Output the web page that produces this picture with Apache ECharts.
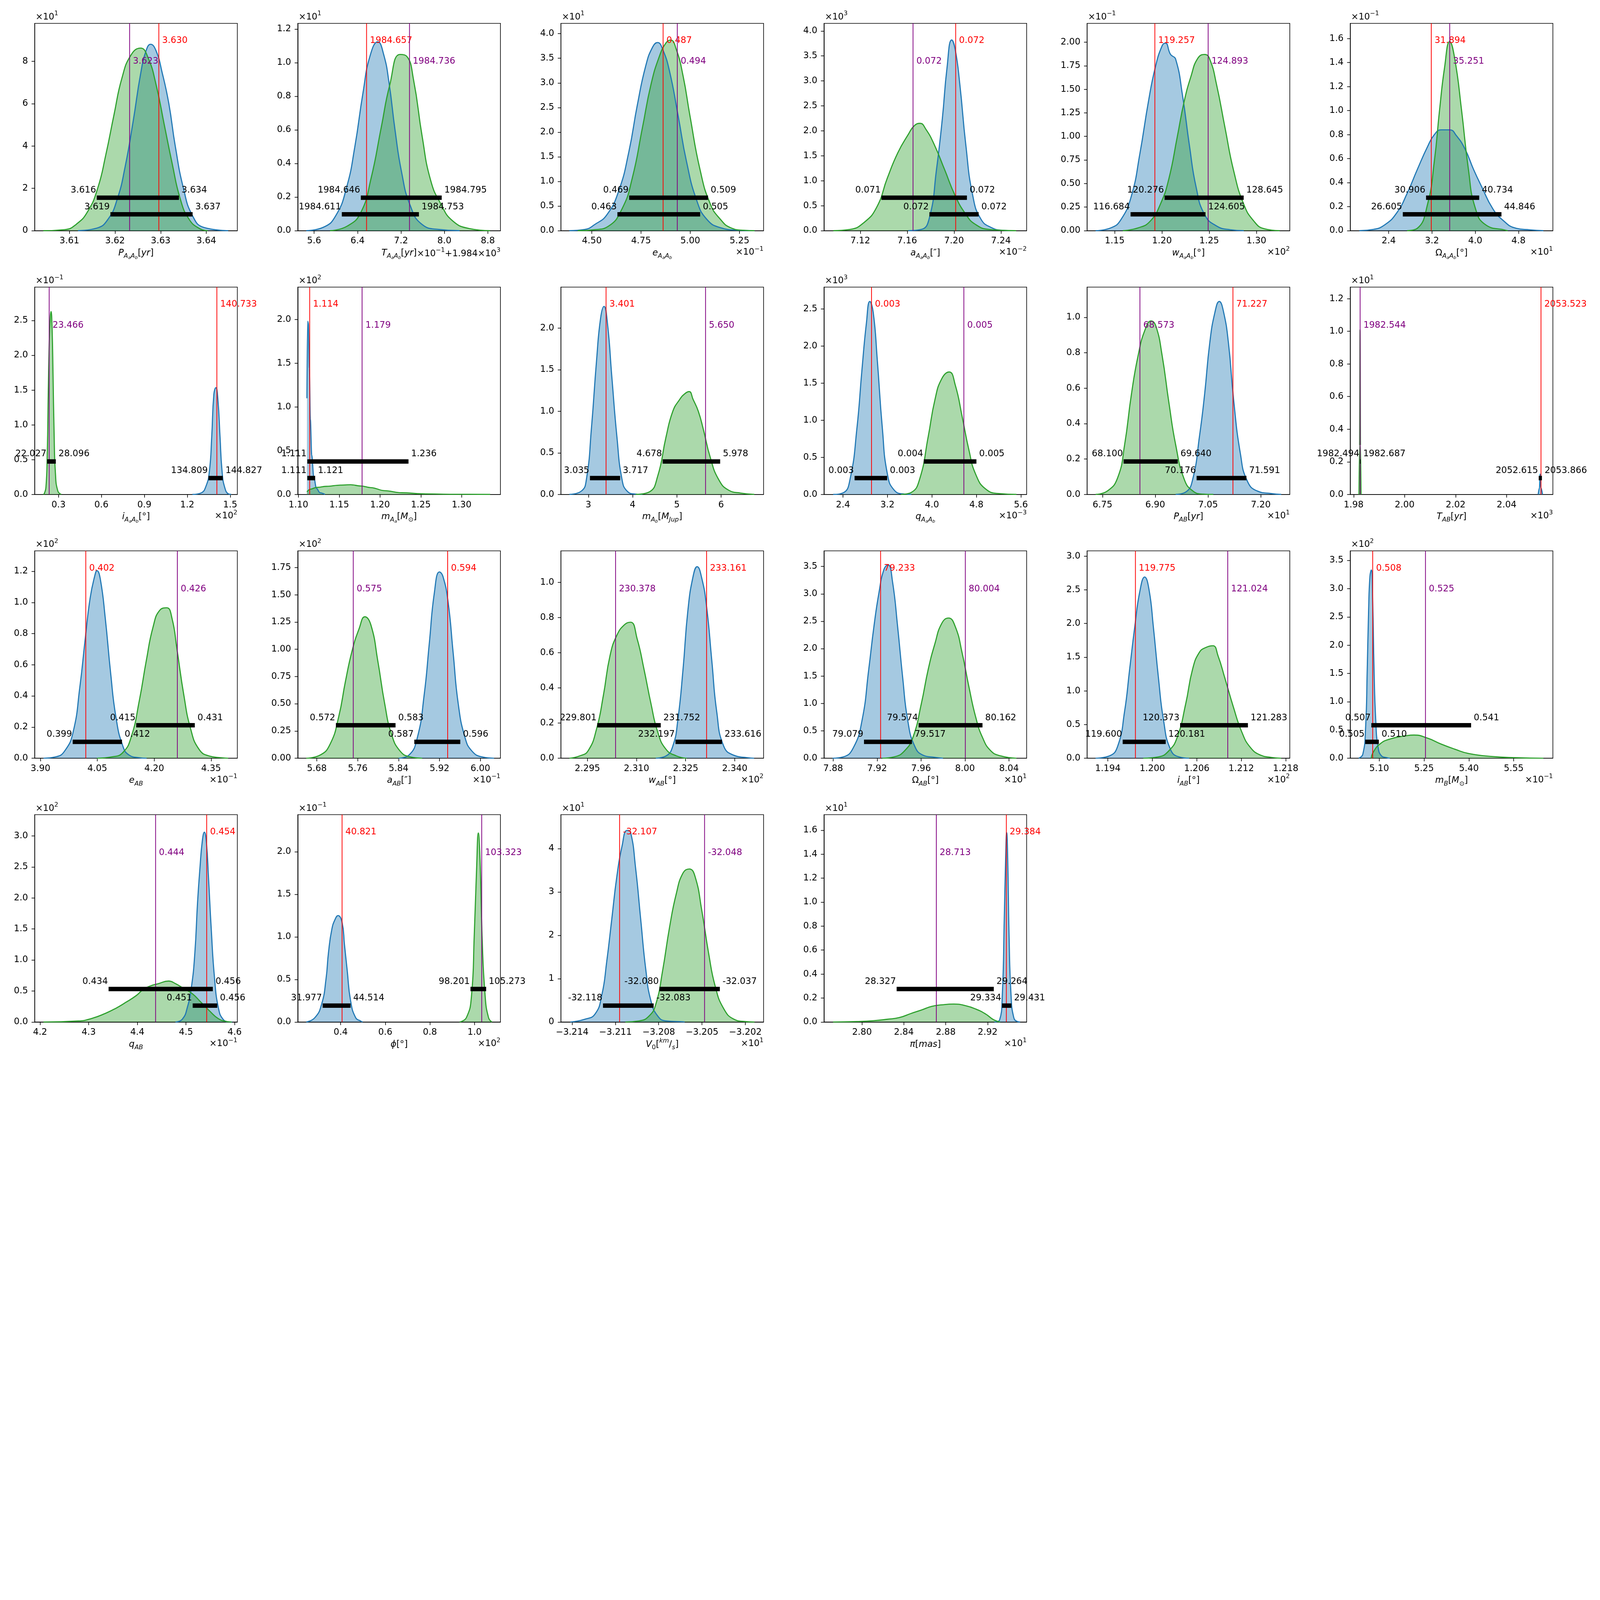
<!DOCTYPE html>
<html>
<head>
<meta charset="utf-8">
<script src="https://cdn.jsdelivr.net/npm/echarts@6/dist/echarts.min.js"></script>
<style>html,body{margin:0;background:#fff;overflow:hidden}#chart{width:7200px;height:4800px}</style>
</head>
<body>
<div id="chart"></div>
<script>
// ---- data (axis display units) ----
const xLabels = [
  '{it|P}{sub|A}{ss|a}{sub|A}{ss|b}{rm|[}{it|yr}{rm|]}',
  '{it|T}{sub|A}{ss|a}{sub|A}{ss|b}{rm|[}{it|yr}{rm|]}',
  '{it|e}{sub|A}{ss|a}{sub|A}{ss|b}',
  '{it|a}{sub|A}{ss|a}{sub|A}{ss|b}{rm|[″]}',
  '{it|w}{sub|A}{ss|a}{sub|A}{ss|b}{rm|[°]}',
  '{rm|Ω}{sub|A}{ss|a}{sub|A}{ss|b}{rm|[°]}',
  '{it|i}{sub|A}{ss|a}{sub|A}{ss|b}{rm|[°]}',
  '{it|m}{sub|A}{ss|a}{rm|[}{it|M}{subrm|⊙}{rm|]}',
  '{it|m}{sub|A}{ss|b}{rm|[}{it|M}{sub|Jup}{rm|]}',
  '{it|q}{sub|A}{ss|a}{sub|A}{ss|b}',
  '{it|P}{sub|AB}{rm|[}{it|yr}{rm|]}',
  '{it|T}{sub|AB}{rm|[}{it|yr}{rm|]}',
  '{it|e}{sub|AB}',
  '{it|a}{sub|AB}{rm|[″]}',
  '{it|w}{sub|AB}{rm|[°]}',
  '{rm|Ω}{sub|AB}{rm|[°]}',
  '{it|i}{sub|AB}{rm|[°]}',
  '{it|m}{sub|B}{rm|[}{it|M}{subrm|⊙}{rm|]}',
  '{it|q}{sub|AB}',
  '{it|ϕ}{rm|[°]}',
  '{it|V}{subrm|0}{rm|[}{supi|km}{rm|/}{subi|s}{rm|]}',
  '{it|π}{rm|[}{it|mas}{rm|]}'
];
const yExp = ['1','1','1','3','−1','−1', '−1','2','','3','','1', '2','2','','','','2', '2','−1','1','1'];
const xExp = ['', '{rm|×10}{sup|−1}{rm|+1.984×10}{sup|3}', '−1','−2','2','1', '2','','','−3','1','3',
              '−1','−1','2','1','2','−1', '−1','2','1','1'];

const xRange = [[3.6024,3.6468],[5.299,9.032],[4.343,5.372],[7.089,7.262],[1.1208,1.3353],[1.688,5.436],
  [0.1333,1.55],[1.0992,1.3476],[2.378,6.959],[2.058,5.704],[6.7064,7.2823],[1.97866,2.05817],
  [3.8847,4.4192],[5.6427,6.0393],[2.2869,2.3488],[7.8717,8.0561],[1.1912,1.21855],[5.0032,5.681],
  [4.1888,4.6056],[0.2076,1.116],[-3.21478,-3.20073],[2.7637,2.9573]];
const yTop = [9.8,1.234,4.21,4.153,2.20,1.727, 2.98,2.371,2.492,2.793,1.171,1.271,
  1.331,1.903,1.18,3.785,3.078,3.668, 3.342,2.435,4.784,1.73];

const xTicks = [[3.61,3.62,3.63,3.64],[5.6,6.4,7.2,8.0,8.8],[4.50,4.75,5.00,5.25],[7.12,7.16,7.20,7.24],
  [1.15,1.20,1.25,1.30],[2.4,3.2,4.0,4.8],[0.3,0.6,0.9,1.2,1.5],[1.10,1.15,1.20,1.25,1.30],[3,4,5,6],
  [2.4,3.2,4.0,4.8,5.6],[6.75,6.90,7.05,7.20],[1.98,2.00,2.02,2.04],[3.90,4.05,4.20,4.35],
  [5.68,5.76,5.84,5.92,6.00],[2.295,2.310,2.325,2.340],[7.88,7.92,7.96,8.00,8.04],
  [1.194,1.200,1.206,1.212,1.218],[5.10,5.25,5.40,5.55],[4.2,4.3,4.4,4.5,4.6],[0.4,0.6,0.8,1.0],
  [-3.214,-3.211,-3.208,-3.205,-3.202],[2.80,2.84,2.88,2.92]];
const xDec = [2,1,2,2,2,1, 1,2,0,1,2,2, 2,2,3,2,3,2, 1,1,3,2];

const yTicks = [[0,2,4,6,8],[0,0.2,0.4,0.6,0.8,1.0,1.2],[0,0.5,1,1.5,2,2.5,3,3.5,4],[0,0.5,1,1.5,2,2.5,3,3.5,4],
  [0,0.25,0.5,0.75,1,1.25,1.5,1.75,2],[0,0.2,0.4,0.6,0.8,1.0,1.2,1.4,1.6],[0,0.5,1,1.5,2,2.5],[0,0.5,1,1.5,2],
  [0,0.5,1,1.5,2],[0,0.5,1,1.5,2,2.5],[0,0.2,0.4,0.6,0.8,1.0],[0,0.2,0.4,0.6,0.8,1.0,1.2],
  [0,0.2,0.4,0.6,0.8,1.0,1.2],[0,0.25,0.5,0.75,1,1.25,1.5,1.75],[0,0.2,0.4,0.6,0.8,1.0],[0,0.5,1,1.5,2,2.5,3,3.5],
  [0,0.5,1,1.5,2,2.5,3],[0,0.5,1,1.5,2,2.5,3,3.5],[0,0.5,1,1.5,2,2.5,3],[0,0.5,1,1.5,2],[0,1,2,3,4],
  [0,0.2,0.4,0.6,0.8,1.0,1.2,1.4,1.6]];
const yDec = [0,1,1,1,2,1, 1,1,1,1,1,1, 1,2,1,1,1,1, 1,1,0,1];

const redX = [3.6296,6.566,4.862,7.2014,1.1925,3.187, 1.407,1.1138,3.399,2.913,7.1208,2.0535,
  4.0195,5.936,2.3314,7.9232,1.19772,5.0784, 4.5426,0.4061,-3.21071,2.9379];
const redText = ['3.630','1984.657','0.487','0.072','119.257','31.894', '140.733','1.114','3.401','0.003','71.227','2053.523',
  '0.402','0.594','233.161','79.233','119.775','0.508', '0.454','40.821','-32.107','29.384'];
const purpleX = [3.6232,7.357,4.934,7.165,1.2489,3.528, 0.2347,1.178,5.648,4.574,6.8565,1.98254,
  4.261,5.7513,2.3036,8.0003,1.21018,5.2549, 4.4375,1.0321,-3.20482,2.871];
const purpleText = ['3.623','1984.736','0.494','0.072','124.893','35.251', '23.466','1.179','5.650','0.005','68.573','1982.544',
  '0.426','0.575','230.378','80.004','121.024','0.525', '0.444','103.323','-32.048','28.713'];

const hiBar = [[3.616,3.634],[6.46,7.95],[4.69,5.09],[7.138,7.211],[1.2028,1.2865],[3.0906,4.0734],
  [0.2203,0.2810],[1.1109,1.2349],[4.678,5.978],[3.853,4.80],[6.81,6.964],[1.982494,1.982687],
  [4.1525,4.307],[5.7173,5.834],[2.2980,2.3174],[7.9578,8.0159],[1.20375,1.2129],[5.0738,5.4075],
  [4.3408,4.5552],[0.9817,1.0519],[-3.20795,-3.20376],[2.8331,2.9259]];
const hiText = [['3.616','3.634'],['1984.646','1984.795'],['0.469','0.509'],['0.071','0.072'],['120.276','128.645'],['30.906','40.734'],
  ['22.027','28.096'],['1.111','1.236'],['4.678','5.978'],['0.004','0.005'],['68.100','69.640'],['1982.494','1982.687'],
  ['0.415','0.431'],['0.572','0.583'],['229.801','231.752'],['79.574','80.162'],['120.373','121.283'],['0.507','0.541'],
  ['0.434','0.456'],['98.201','105.273'],['-32.080','-32.037'],['28.327','29.264']];
const loBar = [[3.619,3.637],[6.11,7.53],[4.63,5.05],[7.179,7.221],[1.1668,1.2461],[2.6605,4.4846],
  [1.3481,1.4483],[1.1109,1.1205],[3.035,3.717],[2.608,3.194],[7.0176,7.1591],[2.052615,2.053866],
  [3.985,4.115],[5.8707,5.9607],[2.3219,2.3361],[7.9081,7.9517],[1.1960,1.20181],[5.0533,5.0989],
  [4.5138,4.5643],[0.3191,0.4443],[-3.21186,-3.20835],[2.9337,2.9427]];
const loText = [['3.619','3.637'],['1984.611','1984.753'],['0.463','0.505'],['0.072','0.072'],['116.684','124.605'],['26.605','44.846'],
  ['134.809','144.827'],['1.111','1.121'],['3.035','3.717'],['0.003','0.003'],['70.176','71.591'],['2052.615','2053.866'],
  ['0.399','0.412'],['0.587','0.596'],['232.197','233.616'],['79.079','79.517'],['119.600','120.181'],['0.505','0.510'],
  ['0.451','0.456'],['31.977','44.514'],['-32.118','-32.083'],['29.334','29.431']];

// density curves, [x, y] pairs per panel
const blueCurves = [
  [[3.6119,0],[3.6160,0.12],[3.6185,0.55],[3.6205,1.5],[3.6222,3],[3.6240,5.2],[3.6256,7.4],[3.6268,8.5],[3.6278,8.81],[3.6290,8.5],[3.6303,7.5],[3.6318,6],[3.6332,4],[3.6350,2],[3.6370,0.7],[3.6395,0.15],[3.6448,0]],
  [[5.456,0],[5.769,0.02],[6.0,0.09],[6.2,0.26],[6.35,0.5],[6.5,0.82],[6.63,1.04],[6.773,1.124],[6.88,1.05],[6.98,0.88],[7.09,0.6],[7.21,0.35],[7.37,0.15],[7.589,0.037],[7.902,0.007],[8.28,0]],
  [[4.386,0],[4.464,0.024],[4.516,0.128],[4.576,0.32],[4.636,0.8],[4.688,1.6],[4.731,2.55],[4.774,3.35],[4.809,3.73],[4.834,3.82],[4.860,3.68],[4.895,3.23],[4.938,2.34],[4.981,1.40],[5.033,0.61],[5.084,0.23],[5.153,0.06],[5.24,0.01],[5.326,0]],
  [[7.161,0],[7.172,0.024],[7.179,0.26],[7.185,1.22],[7.190,2.24],[7.194,3.26],[7.198,3.82],[7.201,3.63],[7.205,2.92],[7.210,1.73],[7.216,0.70],[7.223,0.23],[7.232,0.06],[7.242,0.007],[7.25,0]],
  [[1.1298,0],[1.146,0.03],[1.1568,0.12],[1.1677,0.37],[1.1767,0.82],[1.1857,1.37],[1.1929,1.73],[1.2001,1.96],[1.2037,1.99],[1.2091,1.87],[1.2145,1.82],[1.2217,1.44],[1.229,0.91],[1.2362,0.46],[1.2452,0.17],[1.2578,0.05],[1.2722,0.01],[1.2866,0]],
  [[1.858,0],[2.110,0.01],[2.331,0.05],[2.551,0.15],[2.740,0.31],[2.929,0.51],[3.118,0.70],[3.244,0.80],[3.370,0.84],[3.528,0.84],[3.654,0.79],[3.811,0.68],[3.969,0.51],[4.126,0.36],[4.315,0.19],[4.504,0.09],[4.756,0.02],[5.008,0.007],[5.26,0]],
  [[1.236,0],[1.295,0.02],[1.331,0.12],[1.355,0.34],[1.371,0.83],[1.386,1.44],[1.4,1.535],[1.414,1.37],[1.429,0.83],[1.443,0.34],[1.462,0.10],[1.49,0.005],[1.507,0]],
  [[1.1104,1.10],[1.1113,1.98],[1.1121,1.96],[1.1134,1.44],[1.1146,0.86],[1.1163,0.45],[1.1188,0.2],[1.1221,0.07],[1.1263,0.02],[1.1326,0]],
  [[2.570,0],[2.839,0.04],[2.954,0.18],[3.069,0.80],[3.184,1.61],[3.276,2.12],[3.353,2.26],[3.430,2.06],[3.530,1.41],[3.645,0.69],[3.760,0.18],[3.875,0.04],[4.067,0.004],[4.22,0]],
  [[2.223,0],[2.406,0.023],[2.528,0.21],[2.650,0.89],[2.742,1.69],[2.821,2.31],[2.882,2.60],[2.944,2.45],[3.017,1.81],[3.108,0.89],[3.2,0.27],[3.322,0.057],[3.505,0.005],[3.63,0]],
  [[6.958,0],[6.987,0.014],[7.0065,0.086],[7.0258,0.33],[7.0403,0.566],[7.0548,0.854],[7.0694,1.027],[7.082,1.09],[7.0936,1.036],[7.1081,0.854],[7.1226,0.537],[7.142,0.23],[7.1613,0.077],[7.1904,0.019],[7.229,0.005],[7.258,0]],
  [[2.0524,0],[2.0529,0.04],[2.05315,0.125],[2.0535,0.04],[2.0541,0]],
  [[3.908,0],[3.941,0.009],[3.964,0.047],[3.986,0.167],[4.004,0.46],[4.018,0.766],[4.031,1.028],[4.043,1.169],[4.049,1.204],[4.058,1.148],[4.071,0.897],[4.085,0.548],[4.099,0.265],[4.117,0.08],[4.134,0.02],[4.161,0.003],[4.18,0]],
  [[5.84,0],[5.86,0.028],[5.8767,0.19],[5.89,0.58],[5.9,1.05],[5.91,1.52],[5.92,1.71],[5.9267,1.67],[5.9367,1.44],[5.9467,0.97],[5.9567,0.50],[5.97,0.19],[5.9833,0.067],[6.0033,0.012],[6.0267,0]],
  [[2.3159,0],[2.319,0.013],[2.3211,0.07],[2.3226,0.215],[2.3242,0.505],[2.3257,0.843],[2.3273,1.037],[2.3285,1.09],[2.3299,1.027],[2.3314,0.863],[2.333,0.554],[2.3345,0.264],[2.3366,0.07],[2.3397,0.017],[2.3438,0.003],[2.3459,0]],
  [[7.8794,0],[7.8893,0.025],[7.8985,0.195],[7.9063,0.69],[7.9124,1.62],[7.9171,2.40],[7.9217,3.02],[7.9263,3.45],[7.93,3.53],[7.934,3.23],[7.9387,2.40],[7.9433,1.47],[7.9479,0.69],[7.9541,0.226],[7.9618,0.056],[7.9726,0.015],[7.98,0]],
  [[1.19234,0],[1.19418,0.033],[1.19533,0.18],[1.19625,0.69],[1.19694,1.32],[1.19763,1.95],[1.19832,2.48],[1.19897,2.69],[1.19956,2.50],[1.20014,1.95],[1.20083,1.19],[1.20152,0.56],[1.20244,0.134],[1.20359,0.02],[1.20497,0]],
  [[5.0317,0],[5.0453,0.07],[5.0544,0.52],[5.0601,1.57],[5.0647,2.62],[5.0692,3.22],[5.0738,3.33],[5.0783,2.77],[5.0829,1.57],[5.0886,0.67],[5.0966,0.19],[5.108,0.04],[5.125,0.01],[5.136,0]],
  [[4.4783,0],[4.4923,0.044],[4.5028,0.236],[4.5112,0.564],[4.5182,1.11],[4.5238,1.93],[4.5287,2.48],[4.5336,2.92],[4.5378,3.06],[4.542,2.89],[4.5462,2.345],[4.5518,1.52],[4.5588,0.70],[4.5672,0.208],[4.5763,0.044],[4.5868,0.003],[4.595,0]],
  [[0.2458,0],[0.2839,0.05],[0.3145,0.21],[0.3344,0.51],[0.345,0.81],[0.3603,1.09],[0.3756,1.21],[0.3878,1.25],[0.4061,1.17],[0.4168,0.91],[0.429,0.61],[0.4443,0.25],[0.4672,0.05],[0.4901,0.01],[0.498,0]],
  [[-3.21412,0],[-3.21313,0.063],[-3.21242,0.18],[-3.21195,0.61],[-3.2116,1.40],[-3.21125,2.38],[-3.2109,3.36],[-3.21054,4.06],[-3.21019,4.42],[-3.20995,4.38],[-3.2096,3.55],[-3.20925,2.38],[-3.20889,1.20],[-3.20854,0.49],[-3.20807,0.14],[-3.20748,0.024],[-3.2063,0.004],[-3.2062,0]],
  [[2.9265,0],[2.9314,0.016],[2.934,0.22],[2.9359,0.86],[2.9372,1.356],[2.9382,1.58],[2.9392,1.356],[2.9405,0.72],[2.9424,0.22],[2.945,0.037],[2.9483,0.004],[2.951,0]]
];
const greenCurves = [
  [[3.6043,0],[3.6090,0.05],[3.6115,0.3],[3.6140,0.9],[3.6162,2],[3.6180,3.6],[3.6198,5.5],[3.6215,7.2],[3.6235,8.3],[3.6256,8.63],[3.6272,8.2],[3.6290,6.9],[3.6308,5],[3.6325,3.2],[3.6343,1.5],[3.6362,0.55],[3.6385,0.1],[3.6403,0]],
  [[5.895,0],[6.209,0.027],[6.459,0.108],[6.648,0.31],[6.836,0.614],[6.993,0.867],[7.181,1.049],[7.306,1.038],[7.432,0.897],[7.589,0.563],[7.746,0.30],[7.934,0.159],[8.153,0.058],[8.467,0.012],[8.84,0]],
  [[4.429,0],[4.516,0.02],[4.584,0.09],[4.653,0.44],[4.705,1.06],[4.757,2.09],[4.800,2.96],[4.843,3.54],[4.878,3.82],[4.900,3.87],[4.929,3.68],[4.964,3.13],[4.998,2.34],[5.050,1.23],[5.102,0.54],[5.153,0.23],[5.205,0.06],[5.274,0.007],[5.326,0]],
  [[7.097,0],[7.111,0.024],[7.123,0.16],[7.134,0.47],[7.143,1.05],[7.152,1.56],[7.161,1.93],[7.166,2.10],[7.171,2.15],[7.176,2.03],[7.183,1.73],[7.192,1.22],[7.201,0.70],[7.210,0.33],[7.218,0.13],[7.230,0.024],[7.253,0]],
  [[1.1587,0],[1.1749,0.03],[1.1875,0.10],[1.1983,0.28],[1.2073,0.55],[1.2163,1.00],[1.2235,1.37],[1.2308,1.64],[1.238,1.83],[1.2452,1.87],[1.2506,1.82],[1.2578,1.55],[1.2668,1.09],[1.2758,0.64],[1.2866,0.28],[1.2974,0.10],[1.3083,0.02],[1.3245,0]],
  [[2.740,0],[2.929,0.02],[3.118,0.22],[3.244,0.58],[3.339,1.00],[3.433,1.36],[3.528,1.575],[3.622,1.43],[3.748,1.00],[3.874,0.51],[4.0,0.19],[4.189,0.05],[4.567,0.003],[4.6,0]],
  [[0.195,0],[0.2,0.01],[0.212,0.1],[0.2214,0.6],[0.2286,1.5],[0.2357,2.2],[0.2429,2.55],[0.2476,2.63],[0.2548,2.4],[0.2619,1.7],[0.269,0.9],[0.2786,0.3],[0.2952,0.05],[0.319,0]],
  [[1.1104,0.03],[1.1146,0.06],[1.1221,0.08],[1.1347,0.093],[1.1514,0.107],[1.164,0.111],[1.1765,0.097],[1.189,0.078],[1.2057,0.043],[1.2266,0.019],[1.2559,0.006],[1.2891,0.002],[1.335,0]],
  [[4.067,0],[4.374,0.03],[4.566,0.22],[4.754,0.69],[4.908,1.00],[5.061,1.14],[5.177,1.21],[5.276,1.236],[5.368,1.14],[5.484,1.00],[5.599,0.78],[5.752,0.45],[5.944,0.18],[6.174,0.05],[6.446,0.016],[6.75,0]],
  [[3.444,0],[3.627,0.027],[3.780,0.21],[3.933,0.78],[4.055,1.28],[4.177,1.56],[4.311,1.65],[4.421,1.47],[4.543,1.05],[4.665,0.60],[4.788,0.27],[4.971,0.07],[5.215,0.011],[5.52,0]],
  [[6.7306,0],[6.7645,0.02],[6.7935,0.096],[6.8129,0.28],[6.8323,0.566],[6.8516,0.787],[6.871,0.93],[6.8884,0.98],[6.902,0.95],[6.9194,0.787],[6.9387,0.52],[6.9581,0.28],[6.9823,0.086],[7.0065,0.02],[7.0355,0.002],[7.065,0]],
  [[1.9821,0],[1.98235,0.3],[1.98252,1.01],[1.98268,0.3],[1.9829,0]],
  [[4.049,0],[4.090,0.009],[4.117,0.036],[4.139,0.134],[4.161,0.374],[4.179,0.625],[4.197,0.843],[4.215,0.951],[4.233,0.966],[4.247,0.897],[4.260,0.70],[4.278,0.407],[4.296,0.189],[4.318,0.058],[4.345,0.014],[4.377,0.003],[4.395,0]],
  [[5.6593,0],[5.686,0.028],[5.706,0.13],[5.7227,0.379],[5.736,0.706],[5.749,0.986],[5.7627,1.189],[5.774,1.298],[5.786,1.22],[5.7993,0.893],[5.8127,0.503],[5.826,0.223],[5.8427,0.067],[5.8627,0.012],[5.886,0]],
  [[2.2895,0],[2.2926,0.013],[2.2952,0.042],[2.2978,0.167],[2.2999,0.36],[2.3019,0.583],[2.304,0.70],[2.3064,0.761],[2.3082,0.774],[2.3102,0.679],[2.3123,0.505],[2.3144,0.312],[2.3165,0.148],[2.319,0.051],[2.3222,0.013],[2.3253,0]],
  [[7.9248,0],[7.9356,0.025],[7.9449,0.133],[7.9526,0.38],[7.9603,1.00],[7.9665,1.62],[7.9726,2.09],[7.9788,2.46],[7.985,2.56],[7.9912,2.40],[7.9973,1.93],[8.0035,1.31],[8.0097,0.753],[8.0159,0.38],[8.0236,0.133],[8.0329,0.04],[8.0468,0]],
  [[1.19878,0],[1.20083,0.02],[1.20221,0.108],[1.20336,0.31],[1.20451,0.81],[1.20543,1.32],[1.20634,1.57],[1.20726,1.646],[1.20818,1.67],[1.20887,1.52],[1.20979,1.19],[1.21094,0.76],[1.21209,0.386],[1.21324,0.159],[1.21462,0.045],[1.216,0.013],[1.21738,0]],
  [[5.0738,0],[5.0795,0.10],[5.1023,0.25],[5.1365,0.34],[5.1934,0.40],[5.2162,0.41],[5.2618,0.355],[5.3073,0.25],[5.3529,0.16],[5.3984,0.084],[5.4781,0.03],[5.558,0.009],[5.649,0]],
  [[4.207,0],[4.2785,0.016],[4.3065,0.058],[4.3345,0.14],[4.3555,0.22],[4.3765,0.318],[4.3979,0.427],[4.4118,0.523],[4.4258,0.578],[4.4434,0.619],[4.4643,0.66],[4.4783,0.619],[4.4958,0.537],[4.5133,0.455],[4.5308,0.318],[4.5483,0.18],[4.5658,0.058],[4.5833,0.008],[4.594,0]],
  [[0.9329,0],[0.9634,0.052],[0.9863,0.31],[0.9985,1.01],[1.0092,1.81],[1.0168,2.22],[1.0244,1.91],[1.0336,1.01],[1.0473,0.31],[1.0626,0.052],[1.0779,0]],
  [[-3.21031,0],[-3.20937,0.024],[-3.20866,0.14],[-3.20819,0.42],[-3.20772,1.20],[-3.20725,2.18],[-3.20678,2.96],[-3.20631,3.44],[-3.20588,3.53],[-3.20548,3.36],[-3.20501,2.57],[-3.20454,1.59],[-3.20407,0.81],[-3.20348,0.30],[-3.20278,0.063],[-3.20207,0.012],[-3.20136,0]],
  [[2.7724,0],[2.7951,0.004],[2.8114,0.011],[2.8243,0.023],[2.8357,0.037],[2.8471,0.072],[2.8568,0.10],[2.8665,0.13],[2.8762,0.143],[2.8876,0.15],[2.899,0.136],[2.9087,0.108],[2.9184,0.065],[2.9249,0.023],[2.9298,0.004],[2.932,0]]
];

// ---- layout / style (designed for 7200x4800, scaled to the window) ----
const S = Math.min((window.innerWidth || 7200) / 7200, (window.innerHeight || 4800) / 4800) || 1;
const px = (v) => v * S;
const FONT = 'DejaVu Sans';
const FS = px(40);
const LEFT0 = px(156), TOP0 = px(105), DX = px(1184), DY = px(1187), W = px(912), H = px(933);
const BLUE = '#1f77b4', GREEN = '#2ca02c';
const MONO = [7, 11]; // very sharp peaks keep x-monotone smoothing

const dom = document.getElementById('chart');
dom.style.width = Math.round(px(7200)) + 'px';
dom.style.height = Math.round(px(4800)) + 'px';

const RICH = {
  it: {fontSize: FS, fontFamily: FONT, fontStyle: 'italic', lineHeight: px(58), color: '#000'},
  rm: {fontSize: FS, fontFamily: FONT, lineHeight: px(58), color: '#000'},
  sub: {fontSize: px(28), fontFamily: FONT, fontStyle: 'italic', lineHeight: px(28), verticalAlign: 'top', padding: [px(29), 0, 0, 0], color: '#000'},
  subrm: {fontSize: px(28), fontFamily: FONT, lineHeight: px(28), verticalAlign: 'top', padding: [px(29), 0, 0, 0], color: '#000'},
  subi: {fontSize: px(28), fontFamily: FONT, fontStyle: 'italic', lineHeight: px(28), verticalAlign: 'top', padding: [px(29), 0, 0, 0], color: '#000'},
  ss: {fontSize: px(20), fontFamily: FONT, fontStyle: 'italic', lineHeight: px(20), verticalAlign: 'top', padding: [px(40), 0, 0, 0], color: '#000'},
  sup: {fontSize: px(28), fontFamily: FONT, lineHeight: px(28), verticalAlign: 'top', color: '#000'},
  supi: {fontSize: px(28), fontFamily: FONT, fontStyle: 'italic', lineHeight: px(28), verticalAlign: 'top', color: '#000'}
};

function fmt(v, d) {
  let s = v.toFixed(d);
  if (s.charAt(0) === '-') s = '\u2212' + s.slice(1);
  return s;
}
function expText(e) {
  if (!e) return '';
  if (e.indexOf('{') >= 0) return e;
  return '{rm|×10}{sup|' + e + '}';
}

const grids = [], xAxes = [], yAxes = [], series = [], graphics = [];
const LW = px(2.8);

for (let i = 0; i < 22; i++) {
  const col = i % 6, row = Math.floor(i / 6);
  const left = LEFT0 + col * DX, top = TOP0 + row * DY;

  grids.push({left: left, top: top, width: W, height: H, show: true, borderColor: '#000', borderWidth: LW,
    backgroundColor: 'transparent', containLabel: false, outerBoundsMode: 'none'});

  xAxes.push({
    gridIndex: i, type: 'value', min: xRange[i][0], max: xRange[i][1],
    splitLine: {show: false},
    axisLine: {show: true, onZero: false, lineStyle: {color: '#000', width: LW}},
    axisTick: {show: true, length: px(14), lineStyle: {color: '#000', width: LW}, customValues: xTicks[i]},
    axisLabel: {customValues: xTicks[i], formatter: (v) => fmt(v, xDec[i]), fontSize: FS, fontFamily: FONT, color: '#000', margin: px(27)},
    name: xLabels[i], nameLocation: 'middle', nameGap: px(72),
    nameTextStyle: {rich: RICH, color: '#000', fontSize: FS, fontFamily: FONT}
  });
  yAxes.push({
    gridIndex: i, type: 'value', min: 0, max: yTop[i],
    splitLine: {show: false},
    axisLine: {show: true, onZero: false, lineStyle: {color: '#000', width: LW}},
    axisTick: {show: true, length: px(14), lineStyle: {color: '#000', width: LW}, customValues: yTicks[i]},
    axisLabel: {customValues: yTicks[i], formatter: (v) => fmt(v, yDec[i]), fontSize: FS, fontFamily: FONT, color: '#000', margin: px(30)}
  });

  const mono = MONO.indexOf(i) >= 0;
  const curve = (data, color, fill) => ({
    type: 'line', xAxisIndex: i, yAxisIndex: i, data: data,
    smooth: mono ? 0.35 : 0.5, smoothMonotone: mono ? 'x' : undefined,
    symbol: 'none', showSymbol: false, silent: true, z: 2,
    lineStyle: {color: color, width: px(5)}, areaStyle: {color: fill, opacity: 1}
  });
  series.push(curve(blueCurves[i], BLUE, 'rgba(31,119,180,0.4)'));
  series.push(curve(greenCurves[i], GREEN, 'rgba(44,160,44,0.4)'));

  // vertical reference lines with their labels
  const vText = [redText[i], purpleText[i]];
  series.push({
    type: 'custom', xAxisIndex: i, yAxisIndex: i, silent: true, z: 4,
    data: [[redX[i], 0], [purpleX[i], 1]], encode: {x: 0, y: 1},
    renderItem: (params, api) => {
      const cs = params.coordSys;
      const k = api.value(1);
      const x = api.coord([api.value(0), 0])[0];
      const color = k === 0 ? '#ff0000' : '#800080';
      const ty = cs.y + cs.height * (k === 0 ? 0.084 : 0.184);
      return {type: 'group', children: [
        {type: 'line', shape: {x1: x, y1: cs.y, x2: x, y2: cs.y + cs.height}, style: {stroke: color, lineWidth: px(3.4)}},
        {type: 'text', style: {x: x + px(15), y: ty, text: vText[k], fill: color, fontSize: FS, fontFamily: FONT,
          align: 'left', textAlign: 'left', verticalAlign: 'middle', textVerticalAlign: 'middle'}}
      ]};
    }
  });

  // interval bars
  const bText = [hiText[i], loText[i]];
  series.push({
    type: 'custom', xAxisIndex: i, yAxisIndex: i, silent: true, z: 5,
    data: [[hiBar[i][0], hiBar[i][1], 0], [loBar[i][0], loBar[i][1], 1]], encode: {x: [0, 1], y: 2},
    renderItem: (params, api) => {
      const cs = params.coordSys;
      const lv = api.value(2);
      const p1 = api.coord([api.value(0), 0])[0];
      const p2 = api.coord([api.value(1), 0])[0];
      const yc = cs.y + cs.height * (1 - (lv === 0 ? 0.159 : 0.079));
      const t = bText[lv];
      const ts = (x, txt, al) => ({type: 'text', style: {x: x, y: yc - px(13), text: txt, fill: '#000', fontSize: FS, fontFamily: FONT,
        align: al, textAlign: al, verticalAlign: 'bottom', textVerticalAlign: 'bottom'}});
      return {type: 'group', children: [
        {type: 'rect', shape: {x: p1, y: yc - px(10), width: Math.max(p2 - p1, px(3)), height: px(20)}, style: {fill: '#000'}},
        ts(p1 - px(3), t[0], 'right'),
        ts(p2 + px(12), t[1], 'left')
      ]};
    }
  });

  if (yExp[i]) {
    graphics.push({type: 'text', x: left + px(4), y: top - px(28), silent: true,
      style: {text: expText(yExp[i]), rich: RICH, align: 'left', textAlign: 'left', verticalAlign: 'middle', textVerticalAlign: 'middle'}});
  }
  if (xExp[i]) {
    graphics.push({type: 'text', x: left + W, y: top + H + px(i === 1 ? 104 : 98), silent: true,
      style: {text: expText(xExp[i]), rich: RICH, align: 'right', textAlign: 'right', verticalAlign: 'middle', textVerticalAlign: 'middle'}});
  }
}

const chart = echarts.init(dom, null, {renderer: 'canvas'});
chart.setOption({
  animation: false,
  backgroundColor: '#fff',
  grid: grids,
  xAxis: xAxes,
  yAxis: yAxes,
  series: series,
  graphic: graphics
});
</script>
</body>
</html>
